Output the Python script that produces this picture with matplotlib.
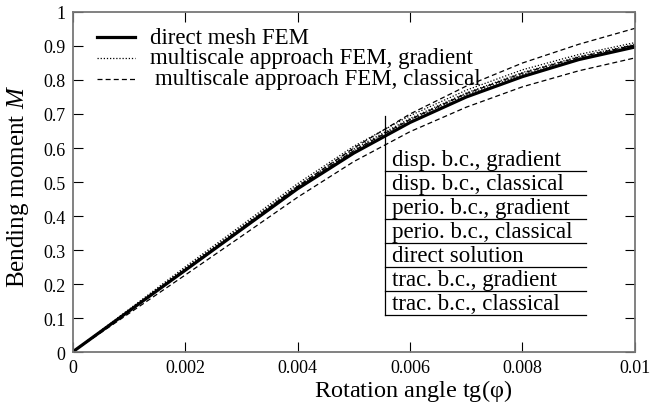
import matplotlib
matplotlib.use('Agg')
import matplotlib.pyplot as plt

plt.rcParams['font.family'] = ['Liberation Serif', 'DejaVu Serif']
plt.rcParams['mathtext.fontset'] = 'custom'
plt.rcParams['mathtext.it'] = 'Liberation Serif:italic'
plt.rcParams['mathtext.rm'] = 'Liberation Serif'

# rotation angle tg(phi)
angle = [0, 0.001, 0.002, 0.003, 0.004, 0.005, 0.006, 0.007, 0.008, 0.009, 0.01]

# direct mesh FEM
direct = [0, 0.12, 0.24, 0.36, 0.48, 0.585, 0.675, 0.75, 0.81, 0.86, 0.897]

# multiscale, gradient (dotted)
disp_grad = [0, 0.125, 0.25, 0.372, 0.495, 0.605, 0.695, 0.77, 0.83, 0.875, 0.91]
perio_grad = [0, 0.123, 0.246, 0.367, 0.489, 0.597, 0.687, 0.762, 0.822, 0.869, 0.905]
trac_grad = [0, 0.122, 0.244, 0.364, 0.485, 0.592, 0.682, 0.757, 0.816, 0.864, 0.9]

# multiscale, classical (dashed)
disp_class = [0, 0.12, 0.242, 0.364, 0.487, 0.6, 0.7, 0.782, 0.85, 0.905, 0.952]
perio_class = [0, 0.121, 0.243, 0.363, 0.484, 0.592, 0.684, 0.76, 0.82, 0.867, 0.903]
trac_class = [0, 0.113, 0.226, 0.34, 0.455, 0.56, 0.648, 0.72, 0.78, 0.827, 0.865]

legend_labels = ['direct mesh FEM',
                 'multiscale approach FEM, gradient',
                 'multiscale approach FEM, classical']
table_rows = ['disp. b.c., gradient', 'disp. b.c., classical',
              'perio. b.c., gradient', 'perio. b.c., classical',
              'direct solution', 'trac. b.c., gradient', 'trac. b.c., classical']

xticks = [0, 0.002, 0.004, 0.006, 0.008, 0.01]
xtick_labels = ['0', '0.002', '0.004', '0.006', '0.008', '0.01']
yticks = [0, 0.1, 0.2, 0.3, 0.4, 0.5, 0.6, 0.7, 0.8, 0.9, 1]
ytick_labels = ['0', '0.1', '0.2', '0.3', '0.4', '0.5', '0.6', '0.7', '0.8', '0.9', '1']

fig = plt.figure(figsize=(6.51, 4.06), dpi=100)
ax = fig.add_axes([0.1114, 0.1305, 0.864, 0.8375])

dot = (0, (1, 1.5))
dash = (0, (4, 2.5))
for ys in (disp_grad, perio_grad, trac_grad):
    ax.plot(angle, ys, color='black', lw=0.9, ls=dot)
for ys in (disp_class, perio_class, trac_class):
    ax.plot(angle, ys, color='black', lw=0.9, ls=dash)
ax.plot(angle, direct, color='black', lw=2.3, solid_capstyle='butt')

ax.set_xlim(0, 0.01)
ax.set_ylim(0, 1)
ax.set_xticks(xticks)
ax.set_xticklabels(xtick_labels)
ax.set_yticks(yticks)
ax.set_yticklabels(ytick_labels)
ax.tick_params(direction='in', length=7, width=0.8, top=True, right=True,
               labelsize=13, pad=5, colors='black')
for s in ax.spines.values():
    s.set_color('#777777')
    s.set_linewidth(1.3)

fig.text(0.635, 0.022, r'Rotation angle tg($\mathregular{\varphi}$)', fontsize=17.5, ha='center')
fig.text(0.028, 0.54, r'Bending moment $M$', fontsize=18, rotation=90, va='center', ha='center')

# key in upper left
key_y = [0.926, 0.865, 0.803]
key_styles = [dict(lw=2.3, ls='-'), dict(lw=0.9, ls=dot), dict(lw=0.9, ls=dash)]
key_shift = [0, 0, 0.009]
for yy, st, lab, sh in zip(key_y, key_styles, legend_labels, key_shift):
    ax.plot([0.044, 0.111], [yy, yy], color='black', transform=ax.transAxes, **st)
    ax.text(0.137 + sh, yy, lab, transform=ax.transAxes, fontsize=16.5, va='center')

# boundary condition table
row_h = 24 / 340
top = (353 - 172) / 340 + row_h
x0 = (385 - 72.5) / 562.5
x1 = (586 - 72.5) / 562.5
ax.plot([x0, x0], [(353 - 316) / 340, (353 - 117) / 340], color='black', lw=0.9,
        transform=ax.transAxes)
for i, lab in enumerate(table_rows):
    yb = top - (i + 1) * row_h
    ax.plot([x0, x1], [yb, yb], color='black', lw=0.9, transform=ax.transAxes)
    ax.text(x0 + 0.013, yb + 0.004, lab, transform=ax.transAxes, fontsize=16.5, va='bottom')

fig.savefig('out.png', dpi=100)
